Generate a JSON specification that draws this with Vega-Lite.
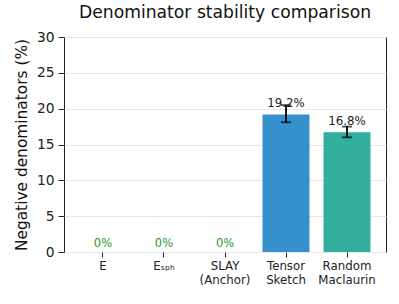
{
  "$schema": "https://vega.github.io/schema/vega-lite/v6.json",
  "autosize": {"type": "none"},
  "width": 322,
  "height": 215,
  "padding": {"left": 64, "top": 37, "right": 13, "bottom": 52},
  "background": "white",
  "title": {"text": "Denominator stability comparison", "font": "DejaVu Sans", "fontSize": 17.2, "fontWeight": "normal", "color": "#111111", "offset": 9},
  "config": {
    "view": {"stroke": "#222222", "strokeWidth": 1},
    "axis": {"labelFont": "DejaVu Sans", "titleFont": "DejaVu Sans", "labelColor": "#222222", "titleColor": "#111111", "domainColor": "#222222", "tickColor": "#222222"},
    "axisY": {"title": "Negative denominators (%)", "titleFontSize": 15.4, "titleFontWeight": "normal", "labelFontSize": 13.8, "values": [0, 5, 10, 15, 20, 25, 30], "tickSize": 6, "labelPadding": 4, "domain": false, "gridColor": "#e6e6e6", "titlePadding": 7}
  },
  "data": {"values": [
    {"method": "E", "value": 0, "lo": null, "hi": null, "label": "0%", "zero": true},
    {"method": "Eₛₚₕ", "value": 0, "lo": null, "hi": null, "label": "0%", "zero": true},
    {"method": "SLAY|(Anchor)", "value": 0, "lo": null, "hi": null, "label": "0%", "zero": true},
    {"method": "Tensor|Sketch", "value": 19.2, "lo": 18.1, "hi": 20.5, "label": "19.2%", "zero": false},
    {"method": "Random|Maclaurin", "value": 16.7, "lo": 16.0, "hi": 17.5, "label": "16.8%", "zero": false}
  ]},
  "encoding": {
    "x": {"field": "method", "type": "nominal", "sort": null,
      "scale": {"paddingInner": 0.23, "paddingOuter": 0.254},
      "axis": {"title": null, "labelAngle": 0, "labelFontSize": 11.8, "labelExpr": "split(datum.label, '|')", "labelLineHeight": 14, "labelPadding": 3, "tickSize": 5, "domain": false, "grid": false}}
  },
  "layer": [
    {
      "mark": {"type": "bar"},
      "encoding": {
        "y": {"field": "value", "type": "quantitative", "scale": {"domain": [0, 30]}, "title": "Negative denominators (%)"},
        "color": {"field": "method", "type": "nominal", "legend": null,
          "scale": {"domain": ["E", "Eₛₚₕ", "SLAY|(Anchor)", "Tensor|Sketch", "Random|Maclaurin"], "range": ["#3690cc", "#3690cc", "#3690cc", "#3690cc", "#33ae9e"]}}
      }
    },
    {
      "transform": [{"filter": "datum.hi != null"}],
      "mark": {"type": "rule", "color": "#000000", "strokeWidth": 1.8},
      "encoding": {"y": {"field": "lo", "type": "quantitative", "title": "Negative denominators (%)"}, "y2": {"field": "hi"}}
    },
    {
      "transform": [{"filter": "datum.hi != null"}],
      "mark": {"type": "tick", "color": "#000000", "thickness": 1.8, "size": 10},
      "encoding": {"y": {"field": "lo", "type": "quantitative", "title": "Negative denominators (%)"}}
    },
    {
      "transform": [{"filter": "datum.hi != null"}],
      "mark": {"type": "tick", "color": "#000000", "thickness": 1.8, "size": 10},
      "encoding": {"y": {"field": "hi", "type": "quantitative", "title": "Negative denominators (%)"}}
    },
    {
      "transform": [{"filter": "!datum.zero"}],
      "mark": {"type": "text", "font": "DejaVu Sans", "fontSize": 11.8, "color": "#222222", "baseline": "alphabetic", "dy": -7},
      "encoding": {"y": {"field": "value", "type": "quantitative", "title": "Negative denominators (%)"}, "text": {"field": "label"}}
    },
    {
      "transform": [{"filter": "datum.zero"}],
      "mark": {"type": "text", "font": "DejaVu Sans", "fontSize": 11.5, "color": "#1f9a1f", "baseline": "alphabetic", "dy": -5},
      "encoding": {"y": {"field": "value", "type": "quantitative", "title": "Negative denominators (%)"}, "text": {"field": "label"}}
    }
  ]
}
